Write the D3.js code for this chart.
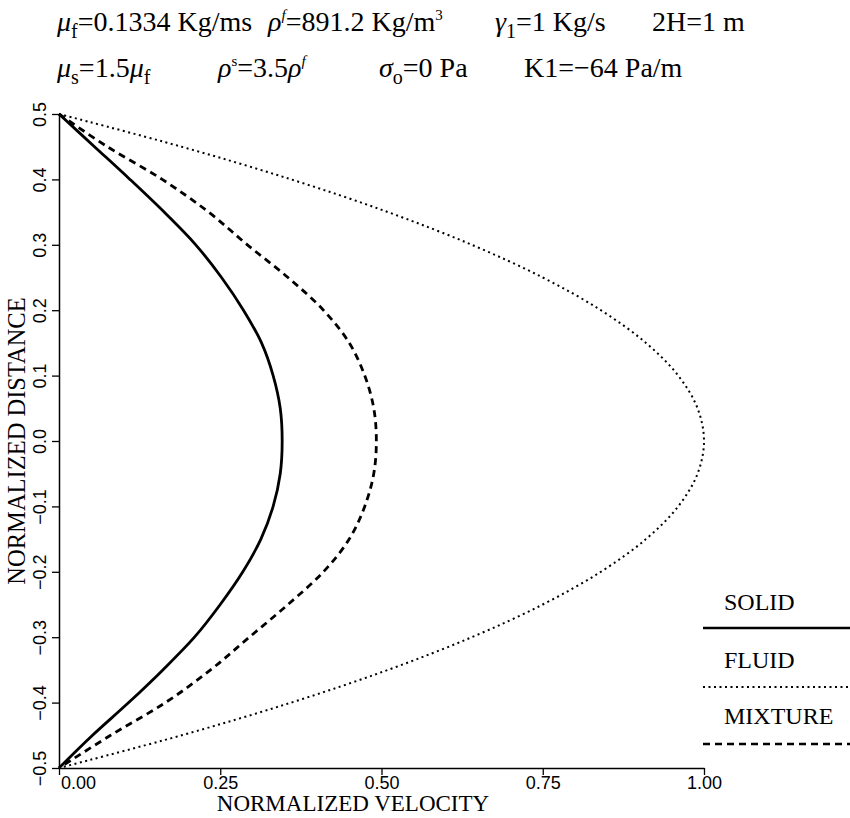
<!DOCTYPE html>
<html>
<head>
<meta charset="utf-8">
<script src="https://cdn.jsdelivr.net/npm/d3@7"></script>
<style>
  html, body { margin: 0; padding: 0; background: #fff; }
  svg { display: block; }
  .serif { font-family: "Liberation Serif", "Times New Roman", serif; fill: #000; }
  .sans { font-family: "Liberation Sans", Arial, sans-serif; fill: #000; }
</style>
</head>
<body>
<svg id="chart" width="850" height="818"></svg>
<script>
// Normalized distance across the channel (y) and normalized velocity profiles
const distance = [0.5, 0.45, 0.4, 0.35, 0.3, 0.25, 0.2, 0.15, 0.1, 0.05, 0.0,
                  -0.05, -0.1, -0.15, -0.2, -0.25, -0.3, -0.35, -0.4, -0.45, -0.5];
const solidVelocity = [0.0, 0.055, 0.11, 0.163, 0.212, 0.252, 0.286, 0.314, 0.332, 0.343, 0.346,
                       0.343, 0.332, 0.313, 0.285, 0.250, 0.210, 0.161, 0.108, 0.052, 0.0];
const fluidVelocity = [0.0, 0.19, 0.36, 0.51, 0.64, 0.75, 0.84, 0.91, 0.96, 0.99, 1.0,
                       0.99, 0.96, 0.91, 0.84, 0.75, 0.64, 0.51, 0.36, 0.19, 0.0];
const mixtureVelocity = [0.0, 0.075, 0.16, 0.232, 0.292, 0.355, 0.41, 0.45, 0.474, 0.488, 0.492,
                         0.488, 0.474, 0.45, 0.41, 0.355, 0.295, 0.235, 0.165, 0.08, 0.0];

const xTicks = [0, 0.25, 0.5, 0.75, 1.0];
const xTickLabels = ["0.00", "0.25", "0.50", "0.75", "1.00"];
const yTicks = [0.5, 0.4, 0.3, 0.2, 0.1, 0.0, -0.1, -0.2, -0.3, -0.4, -0.5];
const yTickLabels = ["0.5", "0.4", "0.3", "0.2", "0.1", "0.0", "\u22120.1", "\u22120.2", "\u22120.3", "\u22120.4", "\u22120.5"];

const seriesNames = ["SOLID", "FLUID", "MIXTURE"];

const svg = d3.select("#chart");

const x = d3.scaleLinear().domain([0, 1]).range([59, 704]);
const y = d3.scaleLinear().domain([-0.5, 0.5]).range([768, 114]);

// Axes
const xAxis = svg.append("g")
  .attr("transform", `translate(0,${y(-0.5)})`)
  .call(d3.axisBottom(x).tickValues(xTicks).tickFormat((d, i) => xTickLabels[i]).tickSize(7).tickSizeOuter(0));
xAxis.select(".domain").attr("stroke", "#000").attr("stroke-width", 1.5);
xAxis.selectAll(".tick line").attr("stroke", "#000").attr("stroke-width", 1.3);
xAxis.selectAll(".tick text")
  .attr("class", "sans").attr("font-size", 18).attr("y", 8).attr("dy", "0.71em");
xAxis.selectAll(".tick text").filter(d => d === 0).attr("x", 19);

const yAxis = svg.append("g")
  .attr("transform", `translate(${x(0)},0)`)
  .call(d3.axisLeft(y).tickValues(yTicks).tickFormat((d, i) => yTickLabels[i]).tickSize(7).tickSizeOuter(0));
yAxis.select(".domain").attr("stroke", "#000").attr("stroke-width", 1.5);
yAxis.selectAll(".tick line").attr("stroke", "#000").attr("stroke-width", 1.3);
yAxis.selectAll(".tick text")
  .attr("class", "sans").attr("font-size", 18)
  .attr("x", null).attr("dy", null)
  .attr("text-anchor", "middle")
  .attr("transform", "translate(-13,0) rotate(-90)");

// Axis titles
svg.append("text").attr("class", "serif")
  .attr("x", 353).attr("y", 811).attr("text-anchor", "middle")
  .attr("font-size", 23).text("NORMALIZED VELOCITY");
svg.append("text").attr("class", "serif")
  .attr("text-anchor", "middle").attr("font-size", 24.5)
  .attr("transform", `translate(25,${y(0)}) rotate(-90)`)
  .text("NORMALIZED DISTANCE");

// Profiles
const line = vals => d3.line()
  .x((d, i) => x(vals[i]))
  .y(d => y(d))
  .curve(d3.curveCatmullRom.alpha(0.5))(distance);

const styles = {
  SOLID:   { width: 2.8, dash: null },
  FLUID:   { width: 2.0, dash: "2,3.5" },
  MIXTURE: { width: 2.8, dash: "7,5" }
};
const series = [
  { name: "SOLID", values: solidVelocity },
  { name: "FLUID", values: fluidVelocity },
  { name: "MIXTURE", values: mixtureVelocity }
];

svg.append("g").selectAll("path").data(series).join("path")
  .attr("d", s => line(s.values))
  .attr("fill", "none")
  .attr("stroke", "#000")
  .attr("stroke-width", s => styles[s.name].width)
  .attr("stroke-dasharray", s => styles[s.name].dash);

// Legend
const legend = svg.append("g");
const legendRows = [602, 660, 716];
const legendLines = [628, 687, 744];
seriesNames.forEach((name, i) => {
  legend.append("text").attr("class", "serif")
    .attr("x", 724).attr("y", legendRows[i] + 8)
    .attr("font-size", 24).text(name);
  legend.append("line")
    .attr("x1", 703).attr("x2", 850)
    .attr("y1", legendLines[i]).attr("y2", legendLines[i])
    .attr("stroke", "#000")
    .attr("stroke-width", name === "FLUID" ? 1.8 : 2.6)
    .attr("stroke-dasharray", styles[name].dash);
});

// Parameter header
function param(g, xPos, yPos, parts) {
  const t = g.append("text").attr("class", "serif").attr("x", xPos).attr("y", yPos).attr("font-size", 28);
  parts.forEach(p => {
    const ts = t.append("tspan").text(p.t);
    if (p.italic) ts.attr("font-style", "italic");
    if (p.sub) ts.attr("font-size", 20).attr("dy", 7);
    if (p.sup) ts.attr("font-size", 15).attr("dy", -11);
    if (p.back) ts.attr("dy", p.back);
  });
}
const header = svg.append("g");
param(header, 57, 31, [
  { t: "\u03bc", italic: true }, { t: "f", sub: true }, { t: "=0.1334 Kg/ms", back: -7 }
]);
param(header, 268, 31, [
  { t: "\u03c1", italic: true }, { t: "f", sup: true, italic: true }, { t: "=891.2 Kg/m", back: 11 }, { t: "3", sup: true }
]);
param(header, 495, 31, [
  { t: "\u03b3", italic: true }, { t: "1", sub: true }, { t: "=1 Kg/s", back: -7 }
]);
param(header, 652, 31, [{ t: "2H=1 m" }]);

param(header, 57, 77, [
  { t: "\u03bc", italic: true }, { t: "s", sub: true }, { t: "=1.5", back: -7 },
  { t: "\u03bc", italic: true }, { t: "f", sub: true }
]);
param(header, 218, 77, [
  { t: "\u03c1", italic: true }, { t: "s", sup: true }, { t: "=3.5", back: 11 },
  { t: "\u03c1", italic: true }, { t: "f", sup: true, italic: true }
]);
param(header, 379, 77, [
  { t: "\u03c3", italic: true }, { t: "o", sub: true }, { t: "=0 Pa", back: -7 }
]);
param(header, 524, 77, [{ t: "K1=\u221264 Pa/m" }]);
</script>
</body>
</html>
